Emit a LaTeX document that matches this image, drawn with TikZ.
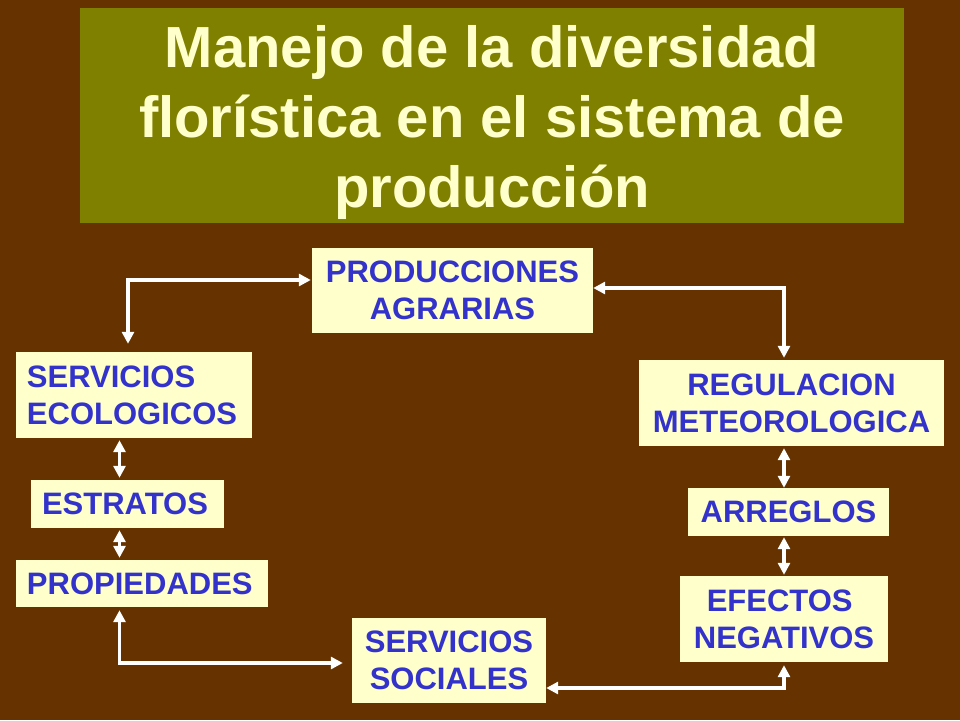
\documentclass[tikz,border=0pt]{standalone}
\usepackage{fontspec}
\setmainfont{Liberation Sans}
\usetikzlibrary{arrows.meta}
\definecolor{bgbrown}{HTML}{663300}
\definecolor{olivebox}{HTML}{808000}
\definecolor{paleyellow}{HTML}{FFFFCC}
\definecolor{textblue}{HTML}{3333CC}
\begin{document}
\begin{tikzpicture}[x=1pt,y=-1pt,
  box/.style={fill=paleyellow, text=textblue, font=\bfseries\fontsize{31}{37.2}\selectfont, inner sep=0pt, align=center},
  lbox/.style={box, align=left, inner xsep=11pt, inner ysep=0pt},
  link/.style={draw=white, line width=3.5pt, {Triangle[length=12pt,width=12pt]}-{Triangle[length=12pt,width=12pt]}, shorten <=2pt, shorten >=2pt}]
\fill[bgbrown] (0,0) rectangle (960,720);
\useasboundingbox (0,0) rectangle (960,720);
% title
\node[fill=olivebox, minimum width=824pt, minimum height=215pt, inner sep=0pt] (titlebox) at (492,115.5) {};
\node[text=paleyellow, font=\bfseries\fontsize{58}{70}\selectfont, align=center, anchor=base, inner sep=0pt] (title) at (492,207) {Manejo de la diversidad\\flor\'istica en el sistema de\\producci\'on};
% boxes
\node[box, minimum width=281pt, minimum height=85pt] (prod) at (452.5,290.5) {PRODUCCIONES\\AGRARIAS};
\node[lbox, text width=214pt, minimum width=236pt, minimum height=86pt] (seco) at (134,395) {SERVICIOS\\ECOLOGICOS};
\node[lbox, text width=171pt, minimum width=193pt, minimum height=48pt] (estr) at (127.5,504) {ESTRATOS};
\node[lbox, text width=230pt, minimum width=252pt, minimum height=47pt] (prop) at (142,583.5) {PROPIEDADES};
\node[box, minimum width=194pt, minimum height=85pt] (ssoc) at (449,660.5) {SERVICIOS\\SOCIALES};
\node[box, minimum width=305pt, minimum height=86pt] (regm) at (791.5,403) {REGULACION\\METEOROLOGICA};
\node[box, minimum width=201pt, minimum height=48pt] (arre) at (788.5,512) {ARREGLOS};
\node[box, minimum width=208pt, minimum height=86pt] (efec) at (784,619) {EFECTOS\hspace*{8.6pt}\\NEGATIVOS};
% connector corners
\coordinate (c1) at (128,280);
\coordinate (c2) at (784,288);
\coordinate (cl) at (119.5,500);
\coordinate (c5) at (119.5,663);
\coordinate (cr) at (784,500);
\coordinate (c8) at (784,688);
% connectors
\draw[link, shorten <=8pt, shorten >=1pt] (seco.north -| c1) -- (c1) -- (c1 -| prod.west);
\draw[link, shorten <=0pt] (c2 -| prod.east) -- (c2) -- (c2 |- regm.north);
\draw[link] (seco.south -| cl) -- (estr.north -| cl);
\draw[link] (estr.south -| cl) -- (prop.north -| cl);
\draw[link, shorten <=3pt, shorten >=9pt] (prop.south -| c5) -- (c5) -- (c5 -| ssoc.west);
\draw[link, shorten >=0pt] (regm.south -| cr) -- (arre.north -| cr);
\draw[link, shorten <=1pt, shorten >=1pt] (arre.south -| cr) -- (efec.north -| cr);
\draw[link, shorten <=3pt, shorten >=0pt] (efec.south -| c8) -- (c8) -- (c8 -| ssoc.east);
\end{tikzpicture}
\end{document}
